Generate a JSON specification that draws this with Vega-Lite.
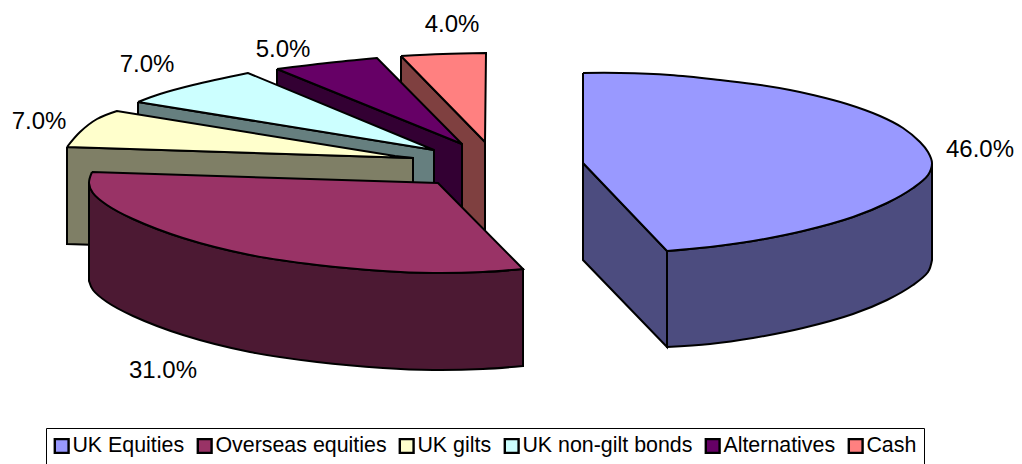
{"$schema":"https://vega.github.io/schema/vega-lite/v6.json","width":1022,"height":464,"padding":0,"autosize":{"type":"none"},"background":"white","config":{"view":{"stroke":null},"font":"Liberation Sans"},
"layer":[
{"data":{"values":[
{"series":"Cash side","part":"c1","step":0,"x":401,"y":56},{"series":"Cash side","part":"c1","step":1,"x":401,"y":56},{"series":"Cash side","part":"c1","step":2,"x":485,"y":142},{"series":"Cash side","part":"c1","step":3,"x":485,"y":142},{"series":"Cash side","part":"c1","step":4,"x":485,"y":239},{"series":"Cash side","part":"c1","step":5,"x":485,"y":239},{"series":"Cash side","part":"c1","step":6,"x":401,"y":153},{"series":"Cash side","part":"c1","step":7,"x":401,"y":153},{"series":"Cash side","part":"c1","step":8,"x":401,"y":56},{"series":"Cash side","part":"c1","step":9,"x":401,"y":56},
{"series":"Cash","part":"c2","step":0,"x":401,"y":56},{"series":"Cash","part":"c2","step":1,"x":401,"y":56},{"series":"Cash","part":"c2","step":2,"x":443,"y":54},{"series":"Cash","part":"c2","step":3,"x":486,"y":53},{"series":"Cash","part":"c2","step":4,"x":486,"y":53},{"series":"Cash","part":"c2","step":5,"x":485,"y":142},{"series":"Cash","part":"c2","step":6,"x":485,"y":142},{"series":"Cash","part":"c2","step":7,"x":401,"y":56},{"series":"Cash","part":"c2","step":8,"x":401,"y":56},
{"series":"Alternatives side","part":"a1","step":0,"x":277,"y":69},{"series":"Alternatives side","part":"a1","step":1,"x":277,"y":69},{"series":"Alternatives side","part":"a1","step":2,"x":462,"y":144},{"series":"Alternatives side","part":"a1","step":3,"x":462,"y":144},{"series":"Alternatives side","part":"a1","step":4,"x":462,"y":241},{"series":"Alternatives side","part":"a1","step":5,"x":462,"y":241},{"series":"Alternatives side","part":"a1","step":6,"x":277,"y":166},{"series":"Alternatives side","part":"a1","step":7,"x":277,"y":166},{"series":"Alternatives side","part":"a1","step":8,"x":277,"y":69},{"series":"Alternatives side","part":"a1","step":9,"x":277,"y":69},
{"series":"Alternatives","part":"a2","step":0,"x":277,"y":69},{"series":"Alternatives","part":"a2","step":1,"x":277,"y":69},{"series":"Alternatives","part":"a2","step":2,"x":327,"y":63},{"series":"Alternatives","part":"a2","step":3,"x":377,"y":58},{"series":"Alternatives","part":"a2","step":4,"x":377,"y":58},{"series":"Alternatives","part":"a2","step":5,"x":462,"y":144},{"series":"Alternatives","part":"a2","step":6,"x":462,"y":144},{"series":"Alternatives","part":"a2","step":7,"x":277,"y":69},{"series":"Alternatives","part":"a2","step":8,"x":277,"y":69},
{"series":"UK non-gilt bonds side","part":"n1","step":0,"x":138,"y":102},{"series":"UK non-gilt bonds side","part":"n1","step":1,"x":138,"y":102},{"series":"UK non-gilt bonds side","part":"n1","step":2,"x":434,"y":150},{"series":"UK non-gilt bonds side","part":"n1","step":3,"x":434,"y":150},{"series":"UK non-gilt bonds side","part":"n1","step":4,"x":434,"y":247},{"series":"UK non-gilt bonds side","part":"n1","step":5,"x":434,"y":247},{"series":"UK non-gilt bonds side","part":"n1","step":6,"x":138,"y":199},{"series":"UK non-gilt bonds side","part":"n1","step":7,"x":138,"y":199},{"series":"UK non-gilt bonds side","part":"n1","step":8,"x":138,"y":102},{"series":"UK non-gilt bonds side","part":"n1","step":9,"x":138,"y":102},
{"series":"UK non-gilt bonds","part":"n2","step":0,"x":138,"y":102},{"series":"UK non-gilt bonds","part":"n2","step":1,"x":138,"y":102},{"series":"UK non-gilt bonds","part":"n2","step":2,"x":160,"y":94},{"series":"UK non-gilt bonds","part":"n2","step":3,"x":193,"y":85},{"series":"UK non-gilt bonds","part":"n2","step":4,"x":248,"y":73},{"series":"UK non-gilt bonds","part":"n2","step":5,"x":248,"y":73},{"series":"UK non-gilt bonds","part":"n2","step":6,"x":434,"y":150},{"series":"UK non-gilt bonds","part":"n2","step":7,"x":434,"y":150},{"series":"UK non-gilt bonds","part":"n2","step":8,"x":138,"y":102},{"series":"UK non-gilt bonds","part":"n2","step":9,"x":138,"y":102},
{"series":"UK gilts side","part":"g1","step":0,"x":67,"y":147},{"series":"UK gilts side","part":"g1","step":1,"x":67,"y":147},{"series":"UK gilts side","part":"g1","step":2,"x":413,"y":158},{"series":"UK gilts side","part":"g1","step":3,"x":413,"y":158},{"series":"UK gilts side","part":"g1","step":4,"x":413,"y":255},{"series":"UK gilts side","part":"g1","step":5,"x":413,"y":255},{"series":"UK gilts side","part":"g1","step":6,"x":67,"y":244},{"series":"UK gilts side","part":"g1","step":7,"x":67,"y":244},{"series":"UK gilts side","part":"g1","step":8,"x":67,"y":147},{"series":"UK gilts side","part":"g1","step":9,"x":67,"y":147},
{"series":"UK gilts","part":"g2","step":0,"x":67,"y":147},{"series":"UK gilts","part":"g2","step":1,"x":67,"y":147},{"series":"UK gilts","part":"g2","step":2,"x":80,"y":132},{"series":"UK gilts","part":"g2","step":3,"x":97,"y":119},{"series":"UK gilts","part":"g2","step":4,"x":117,"y":111},{"series":"UK gilts","part":"g2","step":5,"x":117,"y":111},{"series":"UK gilts","part":"g2","step":6,"x":395,"y":156},{"series":"UK gilts","part":"g2","step":7,"x":395,"y":156},{"series":"UK gilts","part":"g2","step":8,"x":413,"y":158},{"series":"UK gilts","part":"g2","step":9,"x":413,"y":158},{"series":"UK gilts","part":"g2","step":10,"x":67,"y":147},{"series":"UK gilts","part":"g2","step":11,"x":67,"y":147},
{"series":"Overseas equities side","part":"o1","step":0,"x":89,"y":183},{"series":"Overseas equities side","part":"o1","step":1,"x":89,"y":183},{"series":"Overseas equities side","part":"o1","step":2,"x":93,"y":193},{"series":"Overseas equities side","part":"o1","step":3,"x":107,"y":205},{"series":"Overseas equities side","part":"o1","step":4,"x":133,"y":219},{"series":"Overseas equities side","part":"o1","step":5,"x":183,"y":238},{"series":"Overseas equities side","part":"o1","step":6,"x":250,"y":255},{"series":"Overseas equities side","part":"o1","step":7,"x":317,"y":265},{"series":"Overseas equities side","part":"o1","step":8,"x":383,"y":271},{"series":"Overseas equities side","part":"o1","step":9,"x":433,"y":273},{"series":"Overseas equities side","part":"o1","step":10,"x":483,"y":272},{"series":"Overseas equities side","part":"o1","step":11,"x":523,"y":269},{"series":"Overseas equities side","part":"o1","step":12,"x":523,"y":269},{"series":"Overseas equities side","part":"o1","step":13,"x":523,"y":366},{"series":"Overseas equities side","part":"o1","step":14,"x":523,"y":366},{"series":"Overseas equities side","part":"o1","step":15,"x":483,"y":369},{"series":"Overseas equities side","part":"o1","step":16,"x":433,"y":370},{"series":"Overseas equities side","part":"o1","step":17,"x":383,"y":368},{"series":"Overseas equities side","part":"o1","step":18,"x":317,"y":362},{"series":"Overseas equities side","part":"o1","step":19,"x":250,"y":352},{"series":"Overseas equities side","part":"o1","step":20,"x":183,"y":335},{"series":"Overseas equities side","part":"o1","step":21,"x":133,"y":316},{"series":"Overseas equities side","part":"o1","step":22,"x":107,"y":302},{"series":"Overseas equities side","part":"o1","step":23,"x":93,"y":290},{"series":"Overseas equities side","part":"o1","step":24,"x":89,"y":281},{"series":"Overseas equities side","part":"o1","step":25,"x":89,"y":281},{"series":"Overseas equities side","part":"o1","step":26,"x":89,"y":183},{"series":"Overseas equities side","part":"o1","step":27,"x":89,"y":183},
{"series":"Overseas equities","part":"o2","step":0,"x":92,"y":172},{"series":"Overseas equities","part":"o2","step":1,"x":92,"y":172},{"series":"Overseas equities","part":"o2","step":2,"x":438,"y":183},{"series":"Overseas equities","part":"o2","step":3,"x":438,"y":183},{"series":"Overseas equities","part":"o2","step":4,"x":523,"y":269},{"series":"Overseas equities","part":"o2","step":5,"x":523,"y":269},{"series":"Overseas equities","part":"o2","step":6,"x":483,"y":272},{"series":"Overseas equities","part":"o2","step":7,"x":433,"y":273},{"series":"Overseas equities","part":"o2","step":8,"x":383,"y":271},{"series":"Overseas equities","part":"o2","step":9,"x":317,"y":265},{"series":"Overseas equities","part":"o2","step":10,"x":250,"y":255},{"series":"Overseas equities","part":"o2","step":11,"x":183,"y":238},{"series":"Overseas equities","part":"o2","step":12,"x":133,"y":219},{"series":"Overseas equities","part":"o2","step":13,"x":107,"y":205},{"series":"Overseas equities","part":"o2","step":14,"x":93,"y":193},{"series":"Overseas equities","part":"o2","step":15,"x":89,"y":183},{"series":"Overseas equities","part":"o2","step":16,"x":92,"y":172},{"series":"Overseas equities","part":"o2","step":17,"x":92,"y":172},
{"series":"UK Equities side","part":"e1","step":0,"x":583,"y":163},{"series":"UK Equities side","part":"e1","step":1,"x":583,"y":163},{"series":"UK Equities side","part":"e1","step":2,"x":667,"y":251},{"series":"UK Equities side","part":"e1","step":3,"x":667,"y":251},{"series":"UK Equities side","part":"e1","step":4,"x":667,"y":347},{"series":"UK Equities side","part":"e1","step":5,"x":667,"y":347},{"series":"UK Equities side","part":"e1","step":6,"x":583,"y":260},{"series":"UK Equities side","part":"e1","step":7,"x":583,"y":260},{"series":"UK Equities side","part":"e1","step":8,"x":583,"y":163},{"series":"UK Equities side","part":"e1","step":9,"x":583,"y":163},
{"series":"UK Equities side","part":"e3","step":0,"x":667,"y":251},{"series":"UK Equities side","part":"e3","step":1,"x":667,"y":251},{"series":"UK Equities side","part":"e3","step":2,"x":710,"y":247},{"series":"UK Equities side","part":"e3","step":3,"x":753,"y":241},{"series":"UK Equities side","part":"e3","step":4,"x":803,"y":231},{"series":"UK Equities side","part":"e3","step":5,"x":853,"y":217},{"series":"UK Equities side","part":"e3","step":6,"x":887,"y":203},{"series":"UK Equities side","part":"e3","step":7,"x":913,"y":188},{"series":"UK Equities side","part":"e3","step":8,"x":928,"y":175},{"series":"UK Equities side","part":"e3","step":9,"x":932,"y":163},{"series":"UK Equities side","part":"e3","step":10,"x":932,"y":163},{"series":"UK Equities side","part":"e3","step":11,"x":932,"y":260},{"series":"UK Equities side","part":"e3","step":12,"x":932,"y":260},{"series":"UK Equities side","part":"e3","step":13,"x":928,"y":272},{"series":"UK Equities side","part":"e3","step":14,"x":913,"y":285},{"series":"UK Equities side","part":"e3","step":15,"x":887,"y":300},{"series":"UK Equities side","part":"e3","step":16,"x":853,"y":314},{"series":"UK Equities side","part":"e3","step":17,"x":803,"y":328},{"series":"UK Equities side","part":"e3","step":18,"x":753,"y":338},{"series":"UK Equities side","part":"e3","step":19,"x":710,"y":344},{"series":"UK Equities side","part":"e3","step":20,"x":667,"y":347},{"series":"UK Equities side","part":"e3","step":21,"x":667,"y":347},{"series":"UK Equities side","part":"e3","step":22,"x":667,"y":251},{"series":"UK Equities side","part":"e3","step":23,"x":667,"y":251},
{"series":"UK Equities","part":"e2","step":0,"x":583,"y":73},{"series":"UK Equities","part":"e2","step":1,"x":583,"y":73},{"series":"UK Equities","part":"e2","step":2,"x":620,"y":73},{"series":"UK Equities","part":"e2","step":3,"x":670,"y":75},{"series":"UK Equities","part":"e2","step":4,"x":720,"y":80},{"series":"UK Equities","part":"e2","step":5,"x":753,"y":84},{"series":"UK Equities","part":"e2","step":6,"x":790,"y":90},{"series":"UK Equities","part":"e2","step":7,"x":813,"y":95},{"series":"UK Equities","part":"e2","step":8,"x":847,"y":104},{"series":"UK Equities","part":"e2","step":9,"x":880,"y":116},{"series":"UK Equities","part":"e2","step":10,"x":903,"y":128},{"series":"UK Equities","part":"e2","step":11,"x":920,"y":142},{"series":"UK Equities","part":"e2","step":12,"x":928,"y":152},{"series":"UK Equities","part":"e2","step":13,"x":932,"y":163},{"series":"UK Equities","part":"e2","step":14,"x":928,"y":175},{"series":"UK Equities","part":"e2","step":15,"x":913,"y":188},{"series":"UK Equities","part":"e2","step":16,"x":887,"y":203},{"series":"UK Equities","part":"e2","step":17,"x":853,"y":217},{"series":"UK Equities","part":"e2","step":18,"x":803,"y":231},{"series":"UK Equities","part":"e2","step":19,"x":753,"y":241},{"series":"UK Equities","part":"e2","step":20,"x":710,"y":247},{"series":"UK Equities","part":"e2","step":21,"x":667,"y":251},{"series":"UK Equities","part":"e2","step":22,"x":667,"y":251},{"series":"UK Equities","part":"e2","step":23,"x":583,"y":163},{"series":"UK Equities","part":"e2","step":24,"x":583,"y":163},{"series":"UK Equities","part":"e2","step":25,"x":583,"y":73},{"series":"UK Equities","part":"e2","step":26,"x":583,"y":73}
]},
"mark":{"type":"line","filled":true,"stroke":"#000","strokeWidth":2,"strokeJoin":"miter","interpolate":"catmull-rom"},
"encoding":{
"x":{"field":"x","type":"quantitative","scale":{"domain":[0,1022],"nice":false,"zero":false},"axis":null},
"y":{"field":"y","type":"quantitative","scale":{"domain":[464,0],"nice":false,"zero":false},"axis":null},
"order":{"field":"step","type":"quantitative"},
"detail":{"field":"part","type":"nominal"},
"color":{"field":"series","type":"nominal","scale":{"domain":["UK Equities","Overseas equities","UK gilts","UK non-gilt bonds","Alternatives","Cash","UK Equities side","Overseas equities side","UK gilts side","UK non-gilt bonds side","Alternatives side","Cash side"],"range":["#9999FF","#993366","#FFFFCC","#CCFFFF","#660066","#FF8080","#4C4C7F","#4C1933","#7F7F66","#667F7F","#330033","#7F4040"]},
"legend":{"title":null,"values":["UK Equities","Overseas equities","UK gilts","UK non-gilt bonds","Alternatives","Cash"],"orient":"none","legendX":46,"legendY":428,"direction":"horizontal","columns":6,"columnPadding":8,"padding":7,"strokeColor":"#000","fillColor":"#fff","symbolType":"square","symbolSize":190,"symbolStrokeColor":"#000","symbolStrokeWidth":2.4,"symbolOffset":-2,"symbolOpacity":1,"labelFont":"Liberation Sans","labelFontSize":21.4,"labelColor":"#000","labelOffset":0,"labelLimit":300,"encoding":{"legend":{"update":{"stroke":{"value":"#000"},"strokeWidth":{"value":2}}}}}}
}},
{"data":{"values":[{"label":"46.0%","x":980,"y":150},{"label":"31.0%","x":163,"y":371},{"label":"7.0%","x":39,"y":122},{"label":"7.0%","x":147,"y":65},{"label":"5.0%","x":283,"y":50},{"label":"4.0%","x":452,"y":25}]},
"mark":{"type":"text","font":"Liberation Sans","fontSize":24,"color":"#000","align":"center","baseline":"middle"},
"encoding":{"x":{"field":"x","type":"quantitative"},"y":{"field":"y","type":"quantitative"},"text":{"field":"label","type":"nominal"}}}
]}
